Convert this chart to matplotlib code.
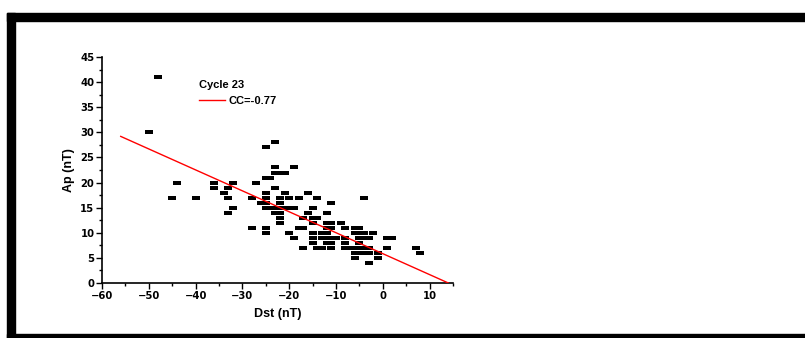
import numpy as np
import matplotlib.pyplot as plt
from matplotlib.patches import Rectangle
from matplotlib.ticker import MultipleLocator

# Dst (nT) and Ap (nT), one pair per marker
dst = [-48, -50, -45, -44, -40, -36, -36, -34, -33, -33, -33, -32, -32,
       -28, -28, -27,
       -25, -25, -24, -25, -25, -26, -25, -25, -24, -23, -25, -25,
       -23, -23, -23, -22, -21, -23, -23, -22, -22, -22, -22, -22, -21,
       -22, -21, -20, -19,
       -19, -20, -20, -19,
       -18, -18, -17, -17, -17,
       -16, -16,
       -15, -15, -14, -15, -15, -15, -15, -14, -14, -13,
       -13, -13, -12,
       -12, -12, -11, -12, -11, -11, -11, -12, -11, -10, -12, -11,
       -9, -8, -8, -8,
       -8, -7, -6, -5, -4, -3,
       -6, -5, -6, -5, -4, -5, -4, -3, -5,
       -6, -5, -4, -3, -6, -4, -3, -2,
       -1, -1, 1, 1, 2, 7, 8]
ap = [41, 30, 17, 20, 17, 20, 19, 18, 19, 17, 14, 20, 15,
      17, 11, 20,
      27, 21, 21, 18, 17, 16, 16, 15, 15, 15, 11, 10,
      28, 23, 22, 22, 22, 19, 14, 14, 16, 17, 13, 12, 18,
      15, 15, 15, 15,
      23, 17, 10, 9,
      17, 11, 11, 13, 7,
      18, 14,
      15, 13, 13, 12, 10, 9, 8, 17, 7, 7,
      9, 10, 10,
      14, 12, 12, 11, 11, 16, 7, 9, 9, 9, 8, 8,
      12, 11, 9, 8,
      7, 7, 7, 7, 7, 7,
      11, 11, 10, 10, 10, 9, 9, 9, 8,
      6, 6, 6, 6, 5, 17, 4, 10,
      6, 5, 7, 9, 9, 7, 6]

# best-fit line as drawn
slope = -0.417
intercept = 5.84
fit_x = [-56, 14]
cc_label = 'CC=-0.77'
title = 'Cycle 23'

plt.rcParams['font.family'] = ['Liberation Sans', 'DejaVu Sans']
plt.rcParams['font.weight'] = 'bold'

fig = plt.figure(figsize=(8.05, 3.38), dpi=100)
ax = fig.add_axes([102 / 805, 1 - 283 / 338, (453 - 102) / 805, (283 - 57) / 338])

# wide flat rectangle marker
rect = [(-1.0, -0.5), (1.0, -0.5), (1.0, 0.5), (-1.0, 0.5), (-1.0, -0.5)]
ax.scatter(dst, ap, marker=rect, s=32, c='black', linewidths=0, zorder=2)

fx = np.array(fit_x, dtype=float)
ax.plot(fx, slope * fx + intercept, color='red', lw=1, label=cc_label, zorder=3)

ax.set_xlim(-60, 15)
ax.set_ylim(0, 45)
ax.xaxis.set_major_locator(MultipleLocator(10))
ax.xaxis.set_minor_locator(MultipleLocator(5))
ax.yaxis.set_major_locator(MultipleLocator(5))
ax.yaxis.set_minor_locator(MultipleLocator(2.5))
for side in ['top', 'right']:
    ax.spines[side].set_visible(False)
for side in ['left', 'bottom']:
    ax.spines[side].set_linewidth(1.2)
ax.tick_params(which='major', direction='out', length=4, width=1, labelsize=7.2, pad=1.5)
ax.tick_params(which='minor', direction='out', length=2, width=1)
for lab in ax.get_xticklabels() + ax.get_yticklabels():
    lab.set_fontweight('bold')
    lab.set_family('DejaVu Sans')

ax.set_xlabel('Dst (nT)', fontsize=9, fontweight='bold', labelpad=5)
ax.set_ylabel('Ap (nT)', fontsize=9, fontweight='bold', labelpad=4)

leg = ax.legend(loc='upper left', bbox_to_anchor=(0.277, 0.898), frameon=False,
                title=title, prop={'size': 8, 'weight': 'bold'},
                handlelength=2.3, handletextpad=0.3, borderpad=0, borderaxespad=0)
leg.get_title().set_fontweight('bold')
leg.get_title().set_fontsize(8)
leg._legend_box.align = 'left'

# thick black frame around the picture
for (x0, y0, w, h) in [(7, 13, 798, 8), (7, 13, 8, 325), (7, 334, 798, 4)]:
    fig.patches.append(Rectangle((x0 / 805, 1 - (y0 + h) / 338), w / 805, h / 338,
                                 transform=fig.transFigure, color='black', zorder=10))

fig.savefig('out.png', dpi=100)
